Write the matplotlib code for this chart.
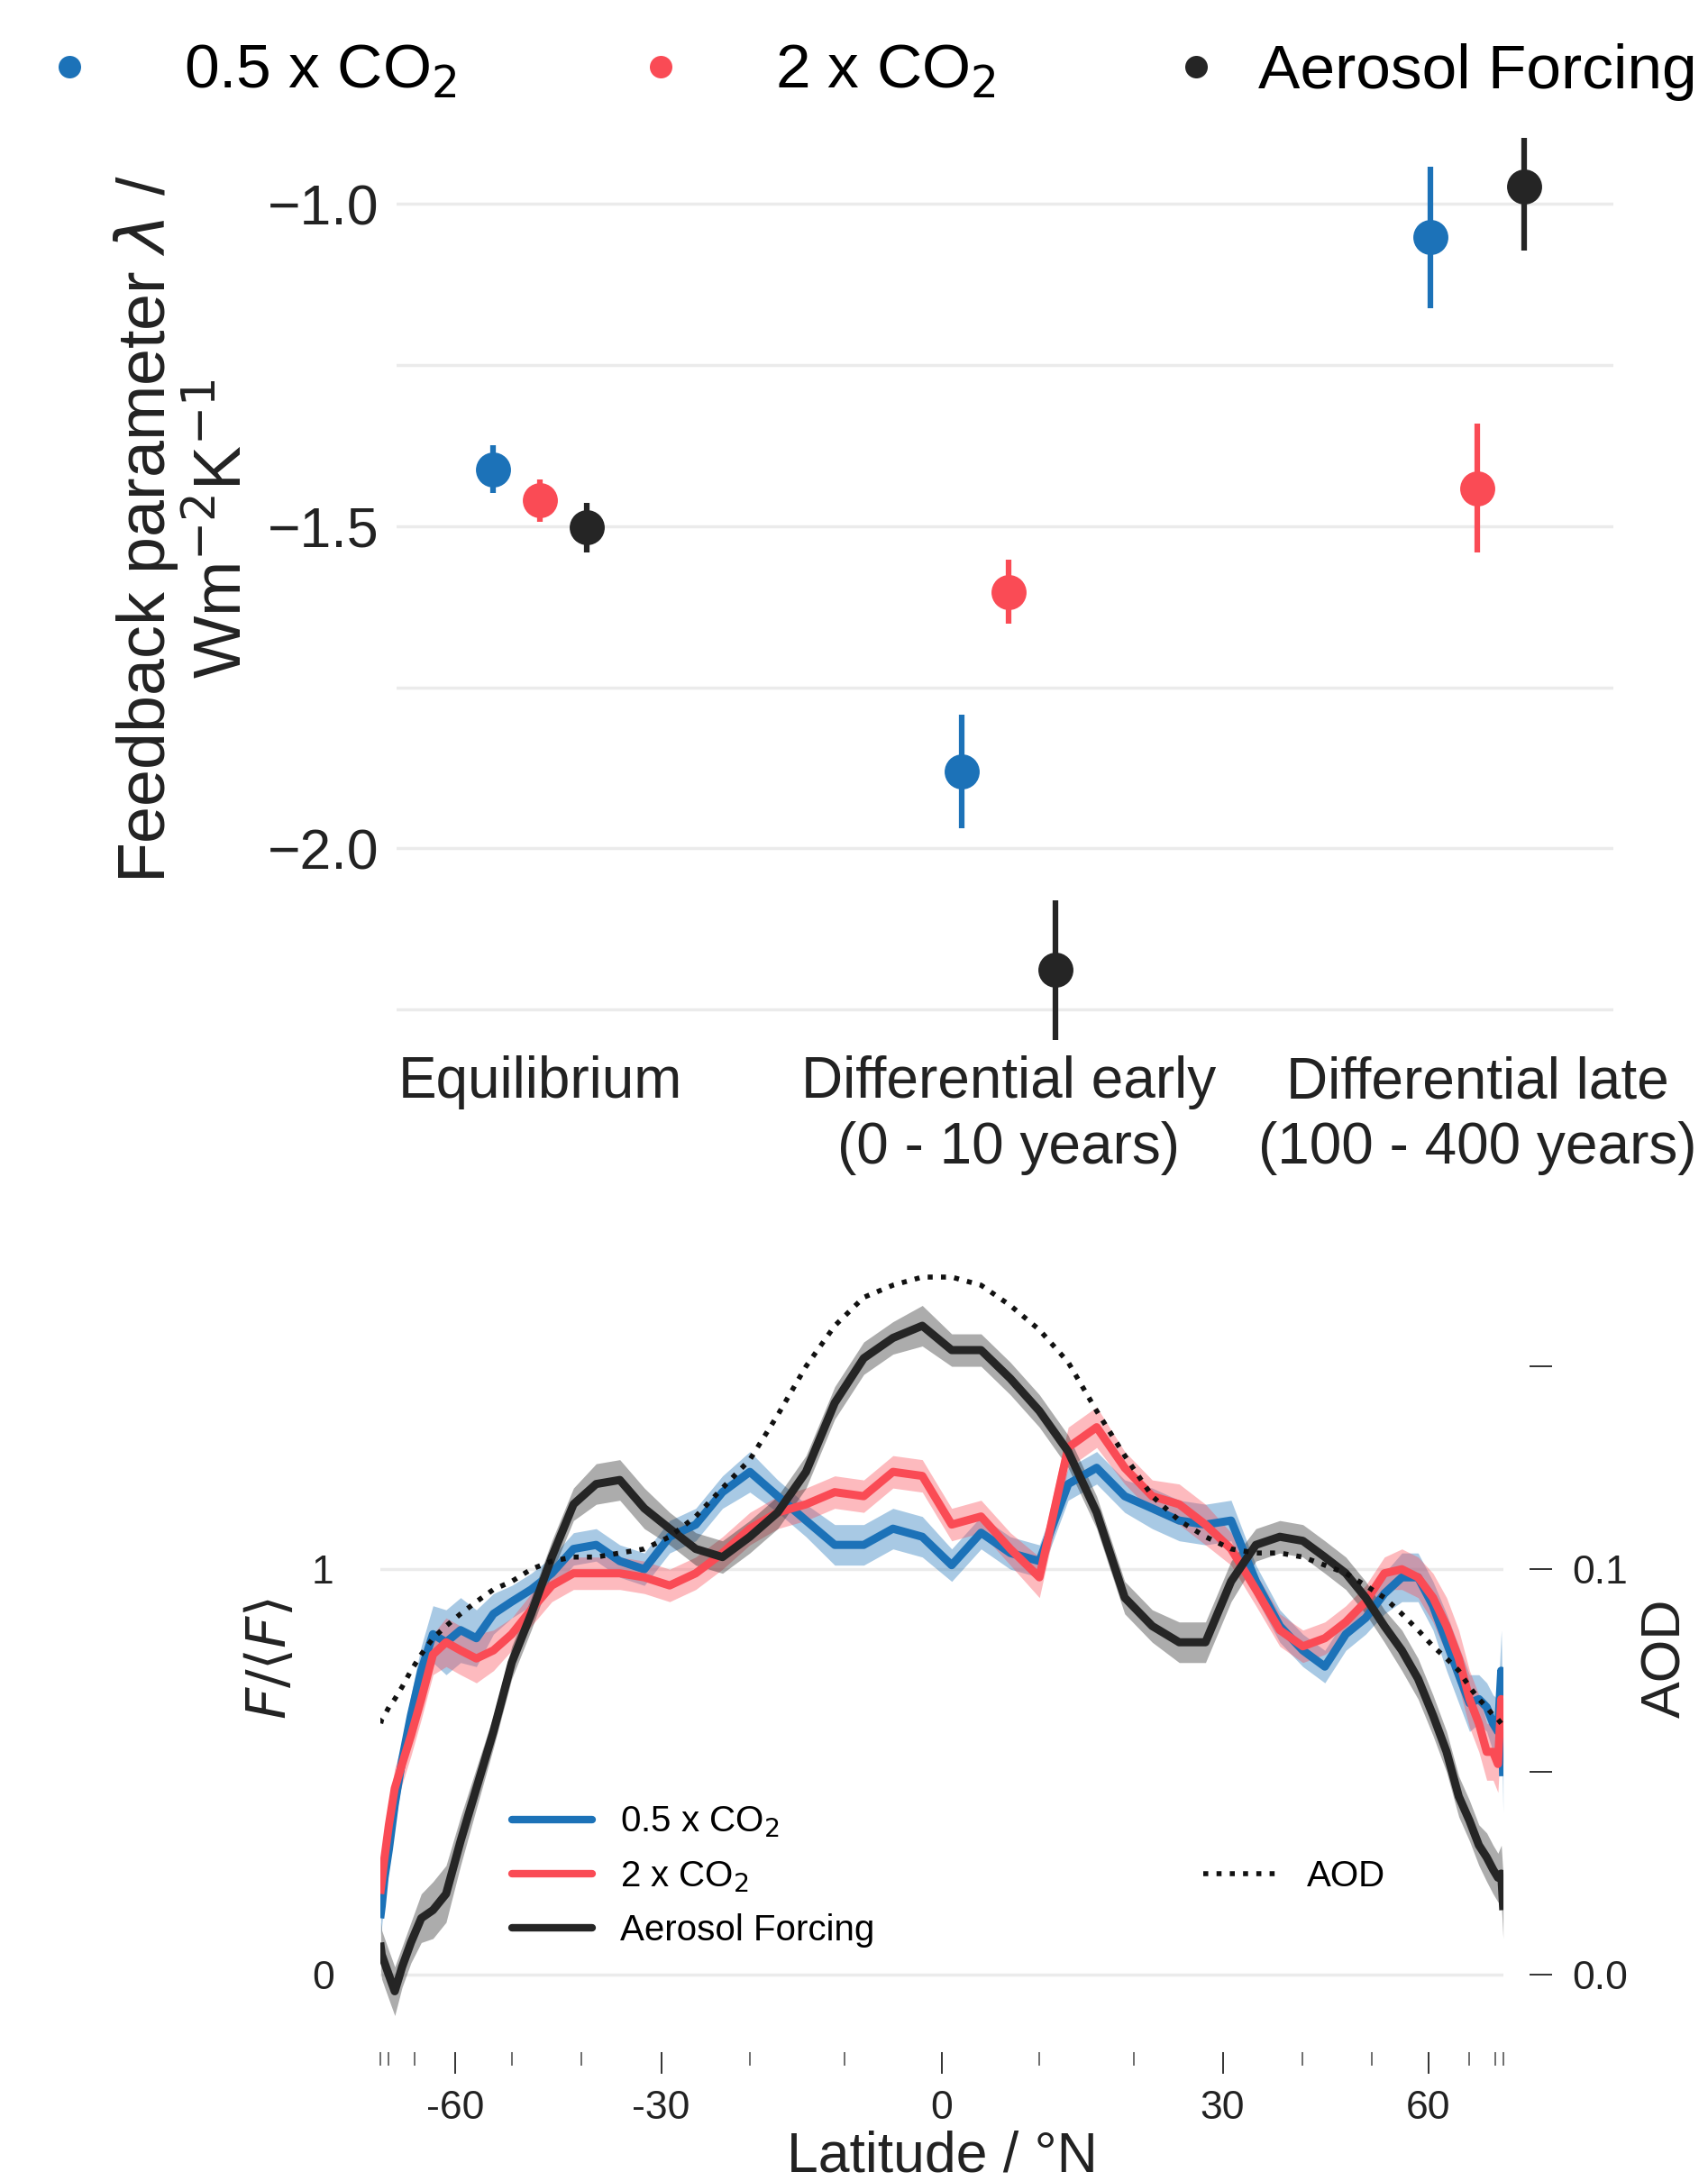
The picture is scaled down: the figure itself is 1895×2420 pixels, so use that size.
import numpy as np
import matplotlib
matplotlib.use('Agg')
import matplotlib.pyplot as plt
from matplotlib.lines import Line2D

plt.rcParams['font.family'] = ['Liberation Sans', 'DejaVu Sans']

BLUE = '#1c72b8'
RED = '#fa4b55'
BLACK = '#252525'
GRID = '#ebebeb'

# ---- feedback parameter (top panel) ----
categories = ['Equilibrium', 'Differential early\n(0 - 10 years)',
              'Differential late\n(100 - 400 years)']
series_names = ['0.5 x CO$_2$', '2 x CO$_2$', 'Aerosol Forcing']

lam_half = [-1.412, -1.880, -1.052]
lam_half_lo = [-1.448, -1.969, -1.162]
lam_half_hi = [-1.374, -1.792, -0.943]

lam_double = [-1.460, -1.602, -1.442]
lam_double_lo = [-1.493, -1.651, -1.541]
lam_double_hi = [-1.428, -1.552, -1.341]

lam_aer = [-1.502, -2.188, -0.973]
lam_aer_lo = [-1.541, -2.297, -1.073]
lam_aer_hi = [-1.464, -2.081, -0.898]

# ---- zonal forcing profiles (bottom panel) ----
lat = [-88, -86, -83, -80, -77, -74, -71, -68, -65, -62,
       -59, -56, -53, -50, -47, -44, -41, -38, -35, -32,
       -29, -26, -23, -20, -17, -14, -11, -8, -5, -2,
       1, 4, 7, 10, 13, 16, 19, 22, 25, 28,
       31, 34, 37, 40, 43, 46, 49, 52, 55, 58,
       61, 64, 67, 70, 73, 76, 79, 82, 85, 88]

f_half = [0.15, 0.17, 0.24, 0.31, 0.42, 0.53, 0.64, 0.75, 0.84, 0.82,
          0.85, 0.83, 0.89, 0.92, 0.95, 0.99, 1.05, 1.06, 1.02, 1.00,
          1.08, 1.11, 1.19, 1.24, 1.18, 1.12, 1.06, 1.06, 1.10, 1.08,
          1.01, 1.09, 1.04, 1.02, 1.21, 1.25, 1.18, 1.15, 1.12, 1.11,
          1.12, 0.97, 0.86, 0.80, 0.76, 0.84, 0.88, 0.94, 0.98, 0.98,
          0.91, 0.82, 0.74, 0.67, 0.68, 0.66, 0.62, 0.60, 0.75, 0.50]
f_half_err = [0.05, 0.05, 0.05, 0.05, 0.05, 0.05, 0.05, 0.06, 0.07, 0.08,
              0.08, 0.07, 0.05, 0.04, 0.04, 0.04, 0.04, 0.04, 0.04, 0.04,
              0.04, 0.04, 0.04, 0.05, 0.04, 0.04, 0.05, 0.05, 0.05, 0.05,
              0.04, 0.04, 0.04, 0.04, 0.04, 0.04, 0.04, 0.05, 0.05, 0.05,
              0.05, 0.04, 0.04, 0.04, 0.04, 0.04, 0.04, 0.05, 0.06, 0.06,
              0.06, 0.07, 0.07, 0.07, 0.06, 0.06, 0.07, 0.08, 0.10, 0.10]

f_double = [0.21, 0.23, 0.29, 0.37, 0.46, 0.52, 0.59, 0.68, 0.79, 0.82,
            0.80, 0.78, 0.80, 0.84, 0.90, 0.96, 0.99, 0.99, 0.99, 0.98,
            0.96, 0.99, 1.04, 1.10, 1.14, 1.16, 1.19, 1.18, 1.24, 1.23,
            1.11, 1.13, 1.05, 0.98, 1.30, 1.35, 1.25, 1.18, 1.16, 1.11,
            1.05, 0.95, 0.85, 0.81, 0.83, 0.87, 0.92, 0.99, 1.00, 0.98,
            0.93, 0.86, 0.78, 0.68, 0.62, 0.55, 0.55, 0.52, 0.68, 0.60]
f_double_err = [0.05, 0.05, 0.05, 0.05, 0.05, 0.05, 0.05, 0.05, 0.05, 0.06,
                0.06, 0.06, 0.05, 0.04, 0.04, 0.04, 0.04, 0.04, 0.04, 0.04,
                0.04, 0.04, 0.04, 0.04, 0.04, 0.04, 0.04, 0.04, 0.04, 0.04,
                0.04, 0.04, 0.04, 0.05, 0.05, 0.05, 0.04, 0.04, 0.05, 0.05,
                0.04, 0.04, 0.04, 0.04, 0.04, 0.04, 0.04, 0.04, 0.05, 0.05,
                0.06, 0.07, 0.07, 0.07, 0.07, 0.07, 0.07, 0.07, 0.08, 0.08]

f_aer = [0.07, 0.05, 0.03, 0.00, -0.04, 0.02, 0.08, 0.14, 0.16, 0.20,
         0.33, 0.46, 0.60, 0.77, 0.89, 1.03, 1.16, 1.21, 1.22, 1.15,
         1.10, 1.05, 1.03, 1.08, 1.14, 1.24, 1.41, 1.52, 1.57, 1.60,
         1.54, 1.54, 1.47, 1.39, 1.29, 1.14, 0.93, 0.86, 0.82, 0.82,
         0.97, 1.06, 1.08, 1.07, 1.03, 0.99, 0.93, 0.86, 0.80, 0.73,
         0.64, 0.55, 0.44, 0.38, 0.32, 0.29, 0.26, 0.24, 0.25, 0.17]
f_aer_err = [0.06, 0.06, 0.06, 0.06, 0.06, 0.05, 0.05, 0.06, 0.07, 0.07,
             0.06, 0.05, 0.04, 0.04, 0.04, 0.04, 0.04, 0.05, 0.05, 0.05,
             0.04, 0.04, 0.04, 0.04, 0.04, 0.04, 0.04, 0.04, 0.04, 0.05,
             0.04, 0.04, 0.04, 0.04, 0.04, 0.04, 0.04, 0.04, 0.05, 0.05,
             0.05, 0.04, 0.04, 0.04, 0.04, 0.04, 0.04, 0.04, 0.05, 0.05,
             0.05, 0.05, 0.05, 0.05, 0.05, 0.06, 0.06, 0.06, 0.07, 0.08]

aod = [0.062, 0.063, 0.064, 0.066, 0.068, 0.071, 0.075, 0.079, 0.083, 0.086,
       0.089, 0.092, 0.095, 0.097, 0.100, 0.102, 0.103, 0.103, 0.104, 0.105,
       0.108, 0.113, 0.120, 0.127, 0.138, 0.150, 0.160, 0.167, 0.170, 0.172,
       0.172, 0.170, 0.165, 0.159, 0.151, 0.139, 0.128, 0.118, 0.112, 0.108,
       0.105, 0.104, 0.104, 0.103, 0.101, 0.099, 0.096, 0.093, 0.089, 0.085,
       0.081, 0.078, 0.075, 0.071, 0.068, 0.066, 0.064, 0.063, 0.062, 0.061]

major_lat = [-60, -30, 0, 30, 60]
minor_lat = [-90, -80, -70, -50, -40, -20, -10, 10, 20, 40, 50, 70, 80, 90]


def sin_fwd(x):
    return np.sin(np.deg2rad(x))


def sin_inv(y):
    return np.rad2deg(np.arcsin(np.clip(y, -1, 1)))


W, H = 1895, 2420
fig = plt.figure(figsize=(W / 100, H / 100), dpi=100)
fig.patch.set_facecolor('white')

# ------------------------------------------------------------ top panel
ax = fig.add_axes([440 / W, 1 - 1156 / H, 1350 / W, (1156 - 151) / H])
for s in ax.spines.values():
    s.set_visible(False)

xc = np.arange(len(categories))
top_series = [
    (lam_half, lam_half_lo, lam_half_hi, BLUE, -0.1),
    (lam_double, lam_double_lo, lam_double_hi, RED, 0.0),
    (lam_aer, lam_aer_lo, lam_aer_hi, BLACK, 0.1),
]
for mean, lo, hi, col, off in top_series:
    mean = np.array(mean)
    yerr = [mean - np.array(lo), np.array(hi) - mean]
    ax.errorbar(xc + off, mean, yerr=yerr, fmt='o', color=col, ms=28,
                mew=0, elinewidth=4.5, capsize=0, zorder=3)

ax.set_xlim(-0.306, 2.29)
ax.set_ylim(-2.3, -0.895)
ax.set_xticks(xc)
ax.set_xticklabels(categories, fontsize=46, linespacing=1.28)
ax.set_yticks([-2.0, -1.5, -1.0])
ax.set_yticks([-2.25, -1.75, -1.25], minor=True)
ax.tick_params(axis='y', which='both', length=0, pad=14, labelsize=45,
               labelcolor='#222222')
ax.tick_params(axis='x', length=0, pad=11, labelcolor='#222222')
ax.grid(axis='y', which='both', color=GRID, lw=2.5)
ax.set_axisbelow(True)
ax.set_ylabel('Feedback parameter $\\lambda$ /\nWm$^{-2}$K$^{-1}$',
              fontsize=53, color='#222222')
ax.yaxis.label.set_va('center')
ax.yaxis.set_label_coords(-0.175, 0.566)

# one legend entry per slot so each sits where the reference puts it
dot_x = [77, 733, 1327]
text_pad = [1.33, 1.33, 0.5]
for name, col, dx, tp in zip(series_names, (BLUE, RED, BLACK), dot_x, text_pad):
    h = Line2D([], [], ls='none', marker='o', ms=18, mew=0, color=col)
    fig.legend([h], [name], loc='center left',
               bbox_to_anchor=((dx - 35) / W, 1 - 80 / H), frameon=False,
               fontsize=50, handlelength=1.0, handletextpad=tp,
               borderpad=0, borderaxespad=0)

# ------------------------------------------------------------ bottom panel
bx = fig.add_axes([422 / W, 1 - 2277 / H, 1246 / W, (2277 - 1403.5) / H])
bx.set_xscale('function', functions=(sin_fwd, sin_inv))
for s in bx.spines.values():
    s.set_visible(False)

bottom_series = [
    (f_half, f_half_err, BLUE),
    (f_double, f_double_err, RED),
    (f_aer, f_aer_err, BLACK),
]
for vals, err, col in bottom_series:
    vals = np.array(vals)
    err = np.array(err)
    bx.fill_between(lat, vals - err, vals + err, color=col, alpha=0.38, lw=0)
    bx.plot(lat, vals, color=col, lw=6.5)

bx.set_xlim(-90, 90)
bx.set_ylim(-0.19, 1.75)
bx.set_xticks(major_lat)
bx.set_xticklabels([str(v) for v in major_lat])
bx.set_xticks(minor_lat, minor=True)
bx.tick_params(axis='x', which='major', direction='out', length=17,
               width=1.4, color='#333333', pad=13, labelsize=32,
               labelcolor='#222222')
bx.tick_params(axis='x', which='minor', direction='out', length=11,
               width=1.2, color='#555555')
bx.set_yticks([0, 1])
bx.tick_params(axis='y', length=0, pad=37, labelsize=32, labelcolor='#222222')
bx.grid(axis='y', color=GRID, lw=2.5)
bx.set_axisbelow(True)
bx.set_ylabel('$F/\\langle F\\rangle$', fontsize=44, color='#222222')
bx.yaxis.label.set_va('center')
bx.yaxis.set_label_coords(-0.097, 0.5)
bx.set_xlabel('Latitude / °N', fontsize=45, color='#222222')
bx.xaxis.label.set_va('top')
bx.xaxis.set_label_coords(0.5, -0.099)

bot_handles = [Line2D([], [], color=c, lw=6, solid_capstyle='round')
               for c in (BLUE, RED, BLACK)]
bx.legend(bot_handles, series_names, loc='center left',
          bbox_to_anchor=(568 / W, 1 - 2082 / H), bbox_transform=fig.transFigure,
          frameon=False, fontsize=29, handlelength=2.2, handletextpad=0.77,
          labelspacing=0.54, borderpad=0, borderaxespad=0)

# AOD on a twin axis
bx2 = bx.twinx()
for s in bx2.spines.values():
    s.set_visible(False)
bx2.spines['right'].set_position(('outward', 21))
aod_line, = bx2.plot(lat, aod, ls=':', color='#111111', lw=4)
bx2.set_ylim(-0.019, 0.175)
bx2.set_yticks([0.0, 0.05, 0.1, 0.15])
bx2.set_yticklabels(['0.0', '', '0.1', ''])
bx2.tick_params(axis='y', direction='out', length=18, width=1.4,
                color='#333333', pad=16, labelsize=32, labelcolor='#222222')
bx2.set_ylabel('AOD', fontsize=44, color='#222222')
bx2.yaxis.label.set_va('center')
bx2.yaxis.set_label_coords(1.145, 0.5)
bx2.legend([aod_line], ['AOD'], loc='center left',
           bbox_to_anchor=(1335 / W, 1 - 2082 / H), bbox_transform=fig.transFigure,
           frameon=False, fontsize=29, handlelength=2.1, handletextpad=0.75,
           borderpad=0, borderaxespad=0)

fig.savefig('out.png', dpi=100)
